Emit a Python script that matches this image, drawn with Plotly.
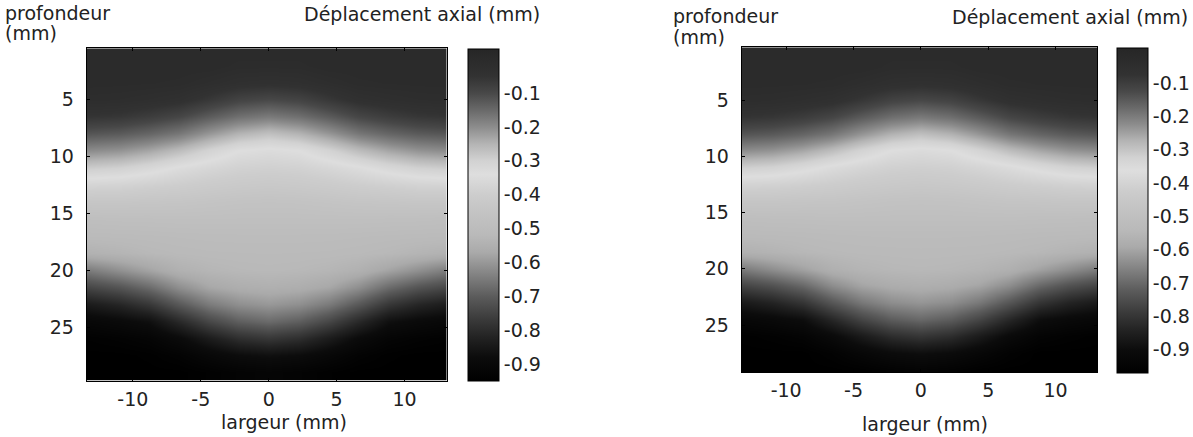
import plotly.graph_objects as go

# ---- data ----
x_mm = [-13.2, -11.0, -8.8, -6.6, -4.4, -2.2, 0.0, 2.2, 4.4, 6.6, 8.8, 11.0, 13.2]
depth_mm = [0.5, 2.0, 3.5, 5.0, 6.5, 8.0, 9.5, 11.0, 12.5, 14.0, 15.5, 17.0,
            18.5, 20.0, 21.5, 23.0, 24.5, 26.0, 27.5, 29.0]

disp_left = [
    [0.0, 0.0, 0.0, 0.0, 0.0, 0.0, 0.0, 0.0, 0.0, 0.0, 0.0, 0.0, 0.0],
    [0.0, 0.0, 0.0, 0.0, 0.0, -0.01, -0.01, -0.01, 0.0, 0.0, 0.0, 0.0, 0.0],
    [-0.003, -0.004, -0.006, -0.009, -0.022, -0.035, -0.04, -0.035, -0.022, -0.009, -0.006, -0.004, -0.003],
    [-0.018, -0.021, -0.028, -0.038, -0.064, -0.09, -0.10, -0.09, -0.064, -0.038, -0.028, -0.021, -0.018],
    [-0.056, -0.062, -0.076, -0.096, -0.13, -0.16, -0.175, -0.16, -0.13, -0.096, -0.076, -0.062, -0.056],
    [-0.12, -0.128, -0.145, -0.17, -0.213, -0.25, -0.27, -0.25, -0.213, -0.17, -0.145, -0.128, -0.12],
    [-0.20, -0.21, -0.232, -0.264, -0.305, -0.34, -0.35, -0.34, -0.305, -0.264, -0.232, -0.21, -0.20],
    [-0.293, -0.302, -0.322, -0.349, -0.369, -0.385, -0.39, -0.385, -0.369, -0.349, -0.322, -0.302, -0.293],
    [-0.376, -0.38, -0.39, -0.40, -0.412, -0.42, -0.425, -0.42, -0.412, -0.40, -0.39, -0.38, -0.376],
    [-0.44, -0.44, -0.444, -0.446, -0.452, -0.458, -0.46, -0.458, -0.452, -0.446, -0.444, -0.44, -0.44],
    [-0.485, -0.482, -0.481, -0.479, -0.479, -0.48, -0.48, -0.48, -0.479, -0.479, -0.481, -0.482, -0.485],
    [-0.51, -0.508, -0.506, -0.503, -0.501, -0.50, -0.50, -0.50, -0.501, -0.503, -0.506, -0.508, -0.51],
    [-0.545, -0.535, -0.523, -0.516, -0.512, -0.511, -0.51, -0.511, -0.512, -0.516, -0.523, -0.535, -0.545],
    [-0.646, -0.613, -0.581, -0.547, -0.531, -0.523, -0.52, -0.523, -0.531, -0.547, -0.581, -0.613, -0.646],
    [-0.742, -0.715, -0.675, -0.616, -0.575, -0.557, -0.55, -0.557, -0.575, -0.616, -0.675, -0.715, -0.742],
    [-0.838, -0.813, -0.775, -0.708, -0.649, -0.614, -0.60, -0.614, -0.649, -0.708, -0.775, -0.813, -0.838],
    [-0.903, -0.89, -0.87, -0.807, -0.742, -0.695, -0.675, -0.695, -0.742, -0.807, -0.87, -0.89, -0.903],
    [-0.94, -0.932, -0.92, -0.887, -0.838, -0.794, -0.775, -0.794, -0.838, -0.887, -0.92, -0.932, -0.94],
    [-0.95, -0.95, -0.945, -0.93, -0.903, -0.88, -0.87, -0.88, -0.903, -0.93, -0.945, -0.95, -0.95],
    [-0.95, -0.95, -0.95, -0.95, -0.94, -0.928, -0.92, -0.928, -0.94, -0.95, -0.95, -0.95, -0.95],
]

disp_right = [
    [-0.025, -0.025, -0.025, -0.025, -0.025, -0.025, -0.025, -0.025, -0.025, -0.025, -0.025, -0.025, -0.025],
    [-0.025, -0.025, -0.025, -0.025, -0.025, -0.035, -0.035, -0.035, -0.025, -0.025, -0.025, -0.025, -0.025],
    [-0.028, -0.029, -0.031, -0.034, -0.047, -0.06, -0.065, -0.06, -0.047, -0.034, -0.031, -0.029, -0.028],
    [-0.043, -0.046, -0.053, -0.063, -0.089, -0.115, -0.125, -0.115, -0.089, -0.063, -0.053, -0.046, -0.043],
    [-0.081, -0.087, -0.101, -0.121, -0.155, -0.185, -0.20, -0.185, -0.155, -0.121, -0.101, -0.087, -0.081],
    [-0.145, -0.153, -0.17, -0.195, -0.238, -0.275, -0.295, -0.275, -0.238, -0.195, -0.17, -0.153, -0.145],
    [-0.225, -0.235, -0.257, -0.289, -0.33, -0.365, -0.375, -0.365, -0.33, -0.289, -0.257, -0.235, -0.225],
    [-0.318, -0.327, -0.348, -0.374, -0.394, -0.41, -0.415, -0.41, -0.394, -0.374, -0.348, -0.327, -0.318],
    [-0.401, -0.405, -0.415, -0.425, -0.437, -0.445, -0.45, -0.445, -0.437, -0.425, -0.415, -0.405, -0.401],
    [-0.465, -0.465, -0.469, -0.471, -0.477, -0.483, -0.485, -0.483, -0.477, -0.471, -0.469, -0.465, -0.465],
    [-0.51, -0.507, -0.506, -0.504, -0.504, -0.505, -0.505, -0.505, -0.504, -0.504, -0.506, -0.507, -0.51],
    [-0.535, -0.533, -0.531, -0.528, -0.526, -0.525, -0.525, -0.525, -0.526, -0.528, -0.531, -0.533, -0.535],
    [-0.57, -0.56, -0.548, -0.541, -0.537, -0.536, -0.535, -0.536, -0.537, -0.541, -0.548, -0.56, -0.57],
    [-0.671, -0.638, -0.606, -0.572, -0.556, -0.548, -0.545, -0.548, -0.556, -0.572, -0.606, -0.638, -0.671],
    [-0.767, -0.74, -0.70, -0.64, -0.60, -0.582, -0.575, -0.582, -0.60, -0.64, -0.70, -0.74, -0.767],
    [-0.863, -0.838, -0.80, -0.733, -0.674, -0.638, -0.625, -0.638, -0.674, -0.733, -0.80, -0.838, -0.863],
    [-0.928, -0.915, -0.895, -0.832, -0.767, -0.72, -0.70, -0.72, -0.767, -0.832, -0.895, -0.915, -0.928],
    [-0.965, -0.957, -0.945, -0.912, -0.863, -0.819, -0.80, -0.819, -0.863, -0.912, -0.945, -0.957, -0.965],
    [-0.97, -0.97, -0.97, -0.955, -0.928, -0.905, -0.895, -0.905, -0.928, -0.955, -0.97, -0.97, -0.97],
    [-0.97, -0.97, -0.97, -0.97, -0.965, -0.953, -0.945, -0.953, -0.965, -0.97, -0.97, -0.97, -0.97],
]

x_ticks = [-10, -5, 0, 5, 10]
x_labels = ["-10", "-5", "0", "5", "10"]
y_ticks = [5, 10, 15, 20, 25]
cb_ticks = [-0.1, -0.2, -0.3, -0.4, -0.5, -0.6, -0.7, -0.8, -0.9]
cb_labels = ["-0.1", "-0.2", "-0.3", "-0.4", "-0.5", "-0.6", "-0.7", "-0.8", "-0.9"]

z_range_left = [-0.95, 0.03]
z_range_right = [-0.97, 0.005]

# grey map: dark -> bright band -> black (normalized positions)
cmap = [
    [0.0, "rgb(0,0,0)"], [0.0714, "rgb(12,12,12)"], [0.1327, "rgb(35,35,35)"],
    [0.1939, "rgb(62,62,62)"], [0.2551, "rgb(92,92,92)"], [0.3163, "rgb(128,128,128)"],
    [0.3571, "rgb(152,152,152)"], [0.3878, "rgb(170,170,170)"], [0.4388, "rgb(185,185,185)"],
    [0.5102, "rgb(196,196,196)"], [0.5612, "rgb(205,205,205)"], [0.6224, "rgb(222,222,222)"],
    [0.6633, "rgb(210,210,210)"], [0.7143, "rgb(180,180,180)"], [0.7653, "rgb(140,140,140)"],
    [0.8163, "rgb(105,105,105)"], [0.8673, "rgb(72,72,72)"], [0.9184, "rgb(50,50,50)"],
    [1.0, "rgb(38,38,38)"],
]

W, H = 1193, 437
FONT = "DejaVu Sans, Arial, sans-serif"
TXT = "#222222"
FS = 19


def px(xp):
    return xp / W


def py(yp):
    return 1 - yp / H


def colorbar(left, top, bottom):
    return dict(
        x=px(left), xanchor="left", xpad=0,
        y=py(top), yanchor="top", ypad=0,
        len=bottom - top, lenmode="pixels",
        thickness=31, thicknessmode="pixels",
        outlinecolor="black", outlinewidth=1,
        tickvals=cb_ticks, ticktext=cb_labels,
        ticks="", tickfont=dict(family=FONT, size=FS, color=TXT),
    )


fig = go.Figure()
fig.add_trace(go.Heatmap(
    x=x_mm, y=depth_mm, z=disp_left, zsmooth="best",
    colorscale=cmap, zmin=z_range_left[0], zmax=z_range_left[1],
    colorbar=colorbar(467.5, 49, 381), xaxis="x", yaxis="y",
))
fig.add_trace(go.Heatmap(
    x=x_mm, y=depth_mm, z=disp_right, zsmooth="best",
    colorscale=cmap, zmin=z_range_right[0], zmax=z_range_right[1],
    colorbar=colorbar(1116.5, 48, 373), xaxis="x2", yaxis="y2",
))

axis_common = dict(
    showline=True, linecolor="black", linewidth=1, mirror="ticks",
    ticks="inside", ticklen=3, tickcolor="black", showgrid=False, zeroline=False,
    tickfont=dict(family=FONT, size=FS, color=TXT),
)

fig.update_layout(
    width=W, height=H,
    margin=dict(l=0, r=0, t=0, b=0),
    paper_bgcolor="white", plot_bgcolor="white",
    showlegend=False,
    xaxis=dict(domain=[px(86.7), px(446.7)], range=[-13.4, 13.1], tickvals=x_ticks,
               ticktext=x_labels, anchor="y", ticklabelstandoff=1, **axis_common),
    yaxis=dict(domain=[py(380.7), py(48.3)], range=[29.7, 0.5], tickvals=y_ticks,
               anchor="x", ticklabelstandoff=8, **axis_common),
    xaxis2=dict(domain=[px(741.7), px(1097.3)], range=[-13.3, 13.1], tickvals=x_ticks,
                ticktext=x_labels, anchor="y2", ticklabelstandoff=1, **axis_common),
    yaxis2=dict(domain=[py(372.3), py(47.3)], range=[29.2, 0.3], tickvals=y_ticks,
                anchor="x2", ticklabelstandoff=8, **axis_common),
)

ann = dict(showarrow=False, xref="paper", yref="paper", borderpad=0,
           font=dict(family=FONT, size=FS, color=TXT))
texts = [
    ("profondeur", 4, 13, "left"),
    ("(mm)", 4, 33, "left"),
    ("Déplacement axial (mm)", 541, 14, "right"),
    ("largeur (mm)", 284, 422, "center"),
    ("profondeur", 672, 16, "left"),
    ("(mm)", 672, 37, "left"),
    ("Déplacement axial (mm)", 1189, 17, "right"),
    ("largeur (mm)", 925, 424, "center"),
]
for t, xx, yy, anc in texts:
    fig.add_annotation(text=t, x=px(xx), y=py(yy), xanchor=anc, yanchor="middle", **ann)

# remove the browser's default 8 px page margin so the figure fills the window
fig.write_html("out.html", config={"displayModeBar": False},
               post_script="document.body.style.margin='0px';")
